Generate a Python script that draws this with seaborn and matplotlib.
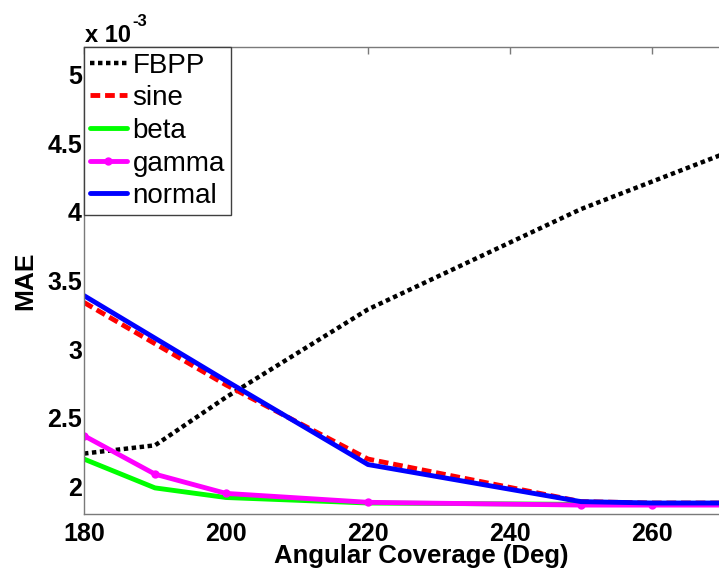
import matplotlib
matplotlib.use("Agg")
import matplotlib.pyplot as plt
import seaborn as sns
import numpy as np

# ---- data (MAE values in units of 1e-3) ----
angles = [180, 190, 200, 220, 250, 260, 270]
fbpp   = [2.24, 2.30, 2.65, 3.29, 4.02, 4.22, 4.42]
sine   = [3.34, 3.04, 2.74, 2.20, 1.89, 1.88, 1.88]
beta   = [2.20, 1.99, 1.92, 1.88, 1.87, 1.87, 1.87]
gamma  = [2.37, 2.09, 1.95, 1.885, 1.865, 1.865, 1.865]
normal = [3.39, 3.08, 2.77, 2.16, 1.89, 1.88, 1.88]
series_names = ["FBPP", "sine", "beta", "gamma", "normal"]
x_ticks = [180, 200, 220, 240, 260]
y_ticks = [2, 2.5, 3, 3.5, 4, 4.5, 5]
y_tick_labels = ["2", "2.5", "3", "3.5", "4", "4.5", "5"]

sns.set_style("white")
plt.rcParams["font.family"] = ["Liberation Sans", "DejaVu Sans"]
plt.rcParams["text.color"] = "black"
plt.rcParams["axes.labelcolor"] = "black"
plt.rcParams["xtick.labelcolor"] = "black"
plt.rcParams["ytick.labelcolor"] = "black"

W, H = 719, 569
fig = plt.figure(figsize=(W / 100, H / 100), dpi=100)
ax_left, ax_right, ax_top, ax_bottom = 84, 758.5, 47, 514
ax = fig.add_axes([ax_left / W, (H - ax_bottom) / H,
                   (ax_right - ax_left) / W, (ax_bottom - ax_top) / H])

styles = {
    "FBPP":   dict(color="black", lw=3.2, dashes=(1.0, 0.8), marker=None),
    "sine":   dict(color="#ff0000", lw=3.5, dashes=(2.0, 1.0), marker=None),
    "beta":   dict(color="#00ff00", lw=3.5, dashes=None, marker=None),
    "gamma":  dict(color="#ff00ff", lw=3.5, dashes=None, marker="o"),
    "normal": dict(color="#0000ff", lw=3.5, dashes=None, marker=None),
}
values = {"FBPP": fbpp, "sine": sine, "beta": beta, "gamma": gamma, "normal": normal}

for name in series_names:
    st = styles[name]
    kw = dict(x=angles, y=values[name], ax=ax, color=st["color"], lw=st["lw"],
              label=name, errorbar=None)
    if st["marker"]:
        kw.update(marker=st["marker"], markersize=6, markeredgewidth=0)
    sns.lineplot(**kw)
    line = ax.get_lines()[-1]
    if st["dashes"] is not None:
        line.set_dashes(st["dashes"])
        line.set_dash_capstyle("butt")

ax.set_xlim(180, 275)
ax.set_ylim(1.8, 5.2)
ax.set_xticks(x_ticks)
ax.set_xticklabels([str(t) for t in x_ticks])
ax.set_yticks(y_ticks)
ax.set_yticklabels(y_tick_labels)

for s in ax.spines.values():
    s.set_color("#7a7a7a")
    s.set_linewidth(1.0)

ax.tick_params(axis="both", direction="in", length=5, width=1, color="#7a7a7a",
               top=True, right=True, labelsize=18, labelcolor="black")
ax.tick_params(axis="x", pad=6)
ax.tick_params(axis="y", pad=1.5)
for lab in ax.get_xticklabels() + ax.get_yticklabels():
    lab.set_fontweight("bold")

ax.set_xlabel("Angular Coverage (Deg)", fontsize=18.5, fontweight="bold",
              labelpad=-1.5, color="black")
ax.set_ylabel("MAE", fontsize=19, fontweight="bold", labelpad=7, color="black")

# exponent annotation
fig.text(85 / W, 1 - 42 / H, "x 10", fontsize=17, fontweight="bold",
         ha="left", va="baseline", color="black")
fig.text(132 / W, 1 - 26 / H, "-3", fontsize=12, fontweight="bold",
         ha="left", va="baseline", color="black")

leg = ax.legend(loc="upper left", bbox_to_anchor=(0, 1), borderaxespad=0,
                fontsize=20, frameon=True, fancybox=False, framealpha=1,
                edgecolor="#404040", handlelength=1.35, handletextpad=0.2,
                labelspacing=0.24, borderpad=0.2)
leg.get_frame().set_linewidth(1.0)
for t in leg.get_texts():
    t.set_color("black")

fig.savefig("out.png", dpi=100)
